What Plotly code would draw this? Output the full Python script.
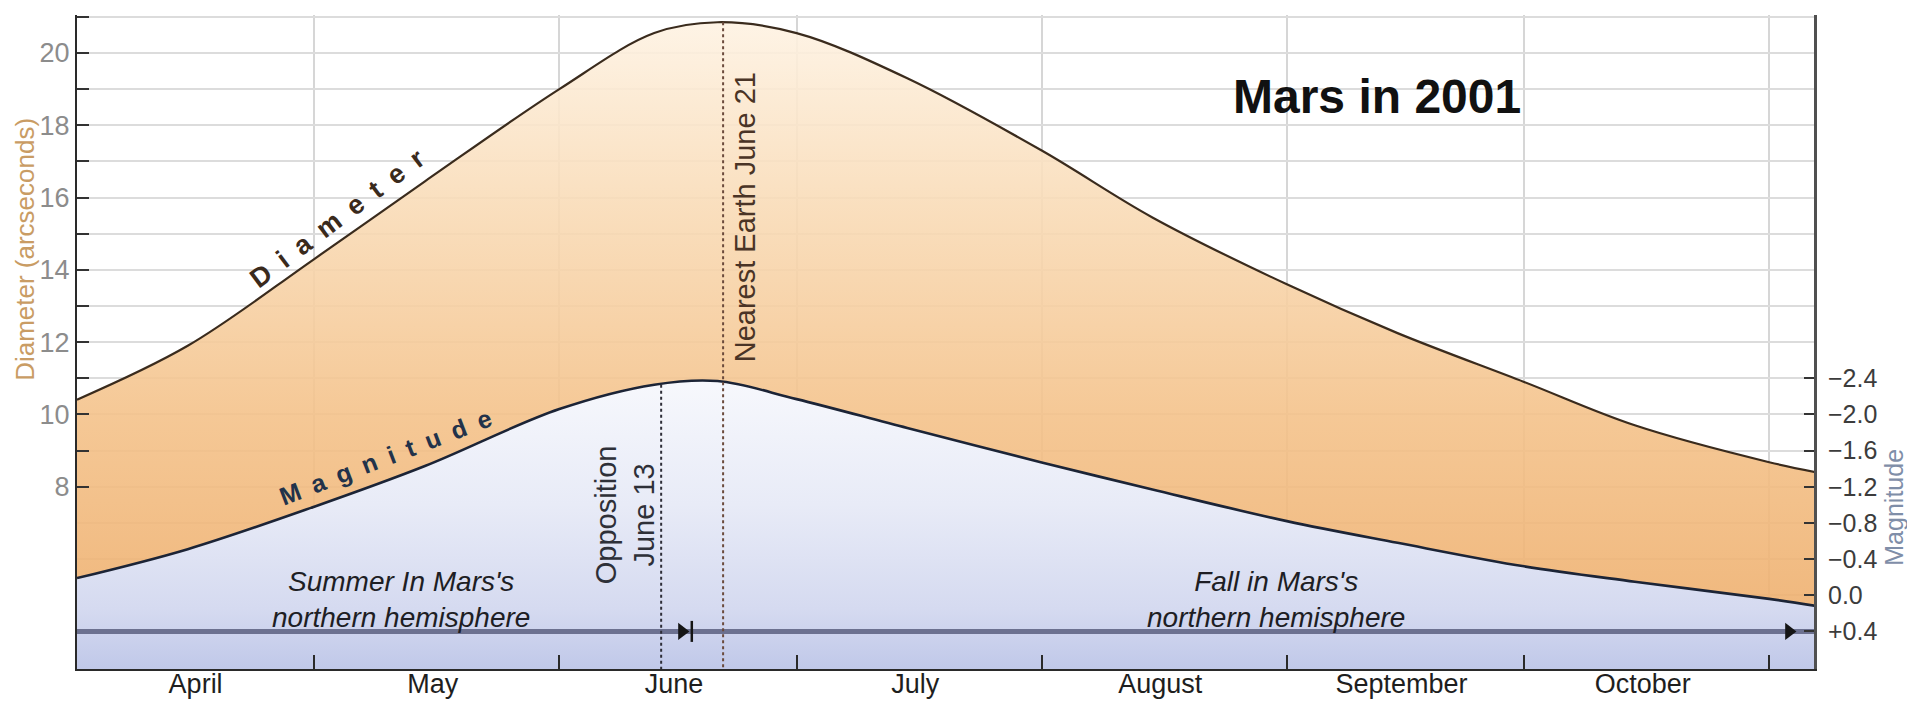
import plotly.graph_objects as go

# ---------------- data ----------------
dates = ["2001-04-01", "2001-04-15", "2001-05-01", "2001-05-15", "2001-06-01",
         "2001-06-13", "2001-06-21", "2001-07-01", "2001-07-15", "2001-08-01",
         "2001-08-15", "2001-09-01", "2001-09-15", "2001-10-01", "2001-10-15",
         "2001-11-01", "2001-11-07"]
diameter = [10.41, 11.9, 14.3, 16.45, 19.0, 20.55, 20.85, 20.55, 19.3, 17.3,
            15.45, 13.6, 12.25, 10.9, 9.7, 8.68, 8.4]
magnitude = [-0.19, -0.51, -0.98, -1.43, -2.06, -2.33, -2.37, -2.17, -1.85, -1.47,
             -1.17, -0.82, -0.58, -0.32, -0.15, 0.04, 0.12]

month_starts = ["2001-05-01", "2001-06-01", "2001-07-01", "2001-08-01",
                "2001-09-01", "2001-10-01", "2001-11-01"]
month_mids = ["2001-04-16", "2001-05-16", "2001-06-15 12:00", "2001-07-16",
              "2001-08-16", "2001-09-15 12:00", "2001-10-16"]
month_names = ["April", "May", "June", "July", "August", "September", "October"]

diam_ticks = list(range(8, 22))
diam_ticktext = [str(v) if v % 2 == 0 else "" for v in diam_ticks]
mag_ticks = [-2.4, -2.0, -1.6, -1.2, -0.8, -0.4, 0.0, 0.4]
mag_ticktext = ["\u22122.4", "\u22122.0", "\u22121.6", "\u22121.2", "\u22120.8",
                "\u22120.4", "0.0", "+0.4"]

x_range = ["2001-04-01", "2001-11-06 16:00"]
diam_range = [2.96, 21.05]


def diam_to_mag(d):
    # right axis scale: 0.4 magnitude per arcsecond, 0.0 mag level with 5"
    return (5.0 - d) / 2.5


mag_range = [diam_to_mag(diam_range[0]), diam_to_mag(diam_range[1])]

opposition_date = "2001-06-13 21:00"
opposition_mag = -2.33
nearest_date = "2001-06-21 17:00"
nearest_diam = 20.85
season_line_mag = 0.4
season_change_date = "2001-06-16 12:00"
season_bar_date = "2001-06-17 18:00"
end_arrow_date = "2001-11-03 12:00"
baseline_mag = 3.0

# ---------------- figure ----------------
fig = go.Figure()

fig.add_trace(go.Scatter(
    x=dates, y=diameter, mode="lines",
    line=dict(color="#3a2b1d", width=2.2, shape="spline", smoothing=1.0),
    fill="tozeroy",
    fillgradient=dict(type="vertical", start=4, stop=21,
                      colorscale=[[0, "rgba(238,174,108,0.9)"],
                                  [0.35, "rgba(244,194,138,0.9)"],
                                  [0.7, "rgba(249,220,184,0.9)"],
                                  [1, "rgba(254,243,228,0.9)"]]),
    hoverinfo="skip"))

fig.add_trace(go.Scatter(
    x=[dates[0], dates[-1]], y=[baseline_mag, baseline_mag], yaxis="y2",
    mode="lines", line=dict(width=0, color="rgba(0,0,0,0)"), hoverinfo="skip"))

fig.add_trace(go.Scatter(
    x=dates, y=magnitude, yaxis="y2", mode="lines",
    line=dict(color="#1c2436", width=2.6, shape="spline", smoothing=1.0),
    fill="tonexty",
    fillgradient=dict(type="vertical", start=-2.5, stop=0.82,
                      colorscale=[[0, "rgb(248,249,253)"],
                                  [0.45, "rgb(232,235,247)"],
                                  [0.8, "rgb(213,218,240)"],
                                  [1, "rgb(192,200,233)"]]),
    hoverinfo="skip"))

# season arrow line
fig.add_trace(go.Scatter(
    x=[x_range[0], x_range[1]], y=[season_line_mag, season_line_mag], yaxis="y2",
    mode="lines", line=dict(color="#6c7190", width=5), hoverinfo="skip"))
fig.add_trace(go.Scatter(
    x=[season_change_date, end_arrow_date], y=[season_line_mag, season_line_mag],
    yaxis="y2", mode="markers",
    marker=dict(symbol="triangle-right", size=15, color="#151515"), hoverinfo="skip"))
fig.add_trace(go.Scatter(
    x=[season_bar_date], y=[season_line_mag], yaxis="y2", mode="markers",
    marker=dict(symbol="line-ns", size=15, line=dict(color="#151515", width=2.5)),
    hoverinfo="skip"))

# dotted event lines
fig.add_trace(go.Scatter(
    x=[opposition_date, opposition_date], y=[opposition_mag, mag_range[0]], yaxis="y2",
    mode="lines", line=dict(color="#2e2e38", width=2, dash="dot"), hoverinfo="skip"))
fig.add_trace(go.Scatter(
    x=[nearest_date, nearest_date], y=[diam_to_mag(nearest_diam), mag_range[0]],
    yaxis="y2", mode="lines", line=dict(color="#6b4a3c", width=2, dash="dot"),
    hoverinfo="skip"))

FONT = "Liberation Sans, Arial, sans-serif"

ann = [
    dict(text="<b>Mars in 2001</b>", x=0.7484, y=0.876, xref="paper", yref="paper",
         font=dict(size=48, color="#111111")),
    dict(text="<b>" + "\u2002".join("Diameter") + "</b>", x="2001-05-04", y=15.44,
         xref="x", yref="y", textangle=-37, font=dict(size=27, color="#3a2a1c")),
    dict(text="<b>" + "\u2002".join("Magnitude") + "</b>", x="2001-05-10", y=8.82,
         xref="x", yref="y", textangle=-21, font=dict(size=25, color="#22324a")),
    dict(text="Nearest Earth June 21", x="2001-06-24 12:00", y=15.46, xref="x", yref="y",
         textangle=-90, font=dict(size=29, color="#4a3426")),
    dict(text="Opposition<br>June 13", x="2001-06-09 08:00", y=7.22, xref="x", yref="y",
         textangle=-90, font=dict(size=29, color="#2e3038")),
    dict(text="<i>Summer In Mars's<br>northern hemisphere</i>", x="2001-05-12", y=4.87,
         xref="x", yref="y", font=dict(size=28, color="#1e1e24")),
    dict(text="<i>Fall in Mars's<br>northern hemisphere</i>", x="2001-08-30 14:00", y=4.87,
         xref="x", yref="y", font=dict(size=28, color="#1e1e24")),
    dict(text="Diameter (arcseconds)", x=-0.0299, y=0.641, xref="paper", yref="paper",
         textangle=-90, font=dict(size=26, color="#c99c64")),
    dict(text="Magnitude", x=1.046, y=0.248, xref="paper", yref="paper",
         textangle=-90, font=dict(size=25, color="#7f8ea8")),
]
for a in ann:
    a.setdefault("showarrow", False)
    a.setdefault("xanchor", "center")
    a.setdefault("yanchor", "middle")

fig.update_layout(
    width=1907, height=695,
    margin=dict(l=69, r=101, t=7, b=34, autoexpand=False),
    paper_bgcolor="white", plot_bgcolor="white",
    showlegend=False,
    font=dict(family=FONT),
    annotations=ann,
    xaxis=dict(
        type="date", range=x_range, tickmode="array", tickvals=month_mids,
        ticktext=month_names, ticks="", showgrid=False, zeroline=False,
        automargin=False,
        tickfont=dict(size=27, color="#1e1e1e"), ticklabelstandoff=-10,
        showline=True, linecolor="#2a2a2a", linewidth=2,
        minor=dict(tickmode="array", tickvals=month_starts, ticks="inside",
                   ticklen=14, tickwidth=2, tickcolor="#2a2a2a",
                   showgrid=True, gridcolor="#d6d6d6", gridwidth=2)),
    yaxis=dict(
        range=diam_range, tickmode="array", tickvals=diam_ticks, ticktext=diam_ticktext,
        ticks="inside", ticklen=12, tickwidth=2, tickcolor="#333333",
        showline=True, linecolor="#2a2a2a", linewidth=2, zeroline=False,
        automargin=False,
        tickfont=dict(size=27, color="#8c8c8c"), ticklabelstandoff=0,
        showgrid=True, gridcolor="#dcdcdc", gridwidth=1.5,
        minor=dict(tickmode="linear", tick0=0, dtick=1, ticks="",
                   showgrid=True, gridcolor="#dcdcdc", gridwidth=1.5)),
    yaxis2=dict(
        overlaying="y", side="right", range=mag_range, tickmode="array",
        tickvals=mag_ticks, ticktext=mag_ticktext, ticks="inside", ticklen=10,
        tickwidth=2, tickcolor="#333333", showline=True, linecolor="#505050",
        linewidth=3, zeroline=False, showgrid=False, automargin=False,
        tickfont=dict(size=25, color="#3c3c3c"), ticklabelstandoff=6),
)

fig.write_html("out.html")
